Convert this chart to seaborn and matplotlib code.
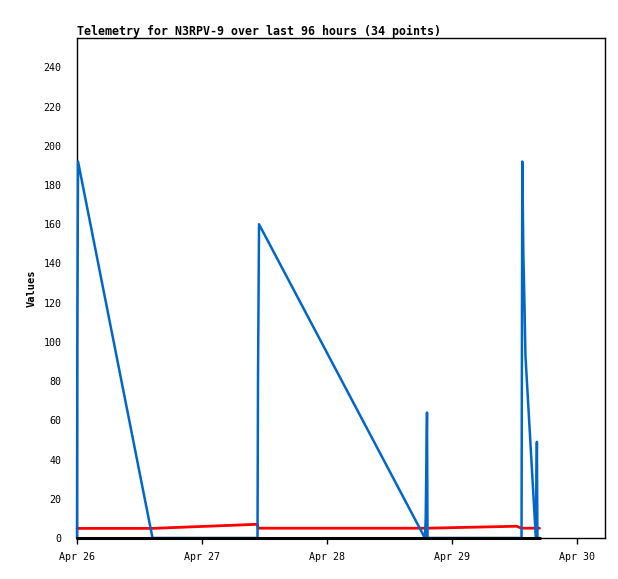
import matplotlib
matplotlib.use("Agg")
import matplotlib.pyplot as plt
import seaborn as sns
import pandas as pd

# hours since Apr 26 00:00
hours = [0.0, 0.05, 0.2, 14.5, 34.66, 34.75, 34.95, 66.8, 66.95, 67.2, 67.3,
         84.4, 85.35, 85.5, 85.7, 85.9, 86.1, 88.1, 88.3, 88.4, 88.8]
blue_vals = [0, 97, 192, 0, 0, 80, 160, 0, 10, 64, 0,
             0, 0, 192, 145, 121, 93, 0, 49, 0, 0]
red_vals = [4.9, 4.9, 4.9, 4.9, 7.0, 5.0, 5.0, 5.0, 5.0, 5.0, 5.0,
            6.0, 5.0, 5.0, 5.0, 5.0, 5.0, 5.0, 5.0, 5.0, 5.0]
black_vals = [0] * len(hours)

tick_hours = [0, 24, 48, 72, 96]
tick_labels = ["Apr 26", "Apr 27", "Apr 28", "Apr 29", "Apr 30"]
y_ticks = list(range(0, 241, 20))

title = "Telemetry for N3RPV-9 over last 96 hours (34 points)"

sns.set_style("white")
plt.rcParams['font.family'] = ['DejaVu Sans Mono', 'DejaVu Sans']
plt.rcParams['text.color'] = 'black'
plt.rcParams['axes.labelcolor'] = 'black'
plt.rcParams['xtick.color'] = 'black'
plt.rcParams['ytick.color'] = 'black'

fig = plt.figure(figsize=(6.18, 5.79), dpi=100)
ax = fig.add_axes([77/618, 41/579, 528/618, 500/579])

df = pd.DataFrame({"h": hours, "blue": blue_vals, "red": red_vals, "black": black_vals})

sns.lineplot(data=df, x="h", y="red", ax=ax, color="#ff0000", linewidth=2.0,
             sort=False, estimator=None, zorder=2)
sns.lineplot(data=df, x="h", y="blue", ax=ax, color="#0066cc", linewidth=1.8,
             sort=False, estimator=None, zorder=3)
sns.lineplot(data=df, x="h", y="black", ax=ax, color="#000000", linewidth=2.2,
             sort=False, estimator=None, zorder=4)
for line in ax.lines:
    line.set_clip_on(False)

ax.set_xlim(0, 96 + 28 / 125 * 24)
ax.set_ylim(0, 255)
ax.set_xticks(tick_hours)
ax.set_xticklabels(tick_labels)
ax.set_yticks(y_ticks)
ax.set_yticklabels([str(v) for v in y_ticks])
ax.tick_params(axis='x', length=4, width=1, pad=6, labelsize=7.2, direction='out',
               bottom=True, colors='black')
ax.tick_params(axis='y', length=0, pad=11, labelsize=7.2, left=True, colors='black')

for s in ax.spines.values():
    s.set_visible(True)
    s.set_color("black")
    s.set_linewidth(1.0)

ax.set_xlabel("")
ax.set_ylabel("Values", fontsize=7.5, fontweight='bold', color='black')
ax.yaxis.set_label_coords(-37 / 528 - 0.006, 0.5)
ax.set_title(title, loc='left', fontsize=8.4, fontweight='bold', pad=2, color='black')

fig.savefig("out.png", dpi=100)
